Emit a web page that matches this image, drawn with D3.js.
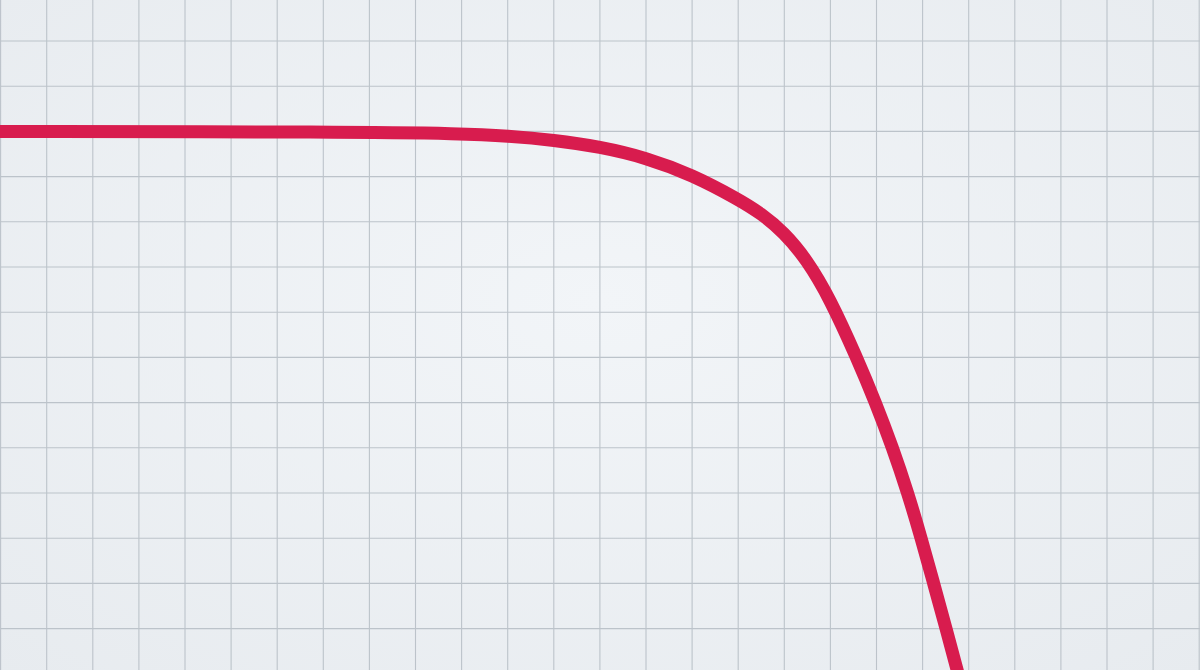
<!DOCTYPE html>
<html>
<head>
<meta charset="utf-8">
<script src="https://cdn.jsdelivr.net/npm/d3@7"></script>
<style>
  html, body { margin: 0; padding: 0; background: #eceff2; }
  svg { display: block; }
</style>
</head>
<body>
<div id="chart"></div>
<script>
// grid positions, in grid units
const gridCols = d3.range(-1, 27);
const gridRows = d3.range(0, 15);

// curve (x in columns, y in rows counted from the bottom)
const voltage = [-0.3, 0, 7.58, 10.0, 11.01, 12.0, 13.0, 14.0, 15.0, 16.0, 16.49, 16.99, 17.49, 17.99, 18.57, 18.98, 19.35, 19.68, 19.97, 20.24, 20.51, 20.77, 20.82];
const current = [12, 12, 11.99, 11.95, 11.9, 11.81, 11.66, 11.42, 11.04, 10.5, 10.19, 9.77, 9.16, 8.3, 7.0, 6.0, 5.0, 4.0, 3.0, 2.0, 1.0, 0, -0.18];

const width = 1200, height = 670;

const svg = d3.select("#chart").append("svg")
    .attr("width", width)
    .attr("height", height);

// soft background, a touch lighter in the middle
const defs = svg.append("defs");
const grad = defs.append("radialGradient")
    .attr("id", "bg")
    .attr("cx", "50%").attr("cy", "45%").attr("r", "75%");
grad.append("stop").attr("offset", "0%").attr("stop-color", "#f2f5f8");
grad.append("stop").attr("offset", "100%").attr("stop-color", "#e7ebef");

svg.append("rect")
    .attr("width", width)
    .attr("height", height)
    .attr("fill", "url(#bg)");

const x = d3.scaleLinear().domain([0, 26]).range([0.6, 1199.2]);
const y = d3.scaleLinear().domain([0, 14]).range([673.8, 41]);

// grid
svg.append("g")
    .selectAll("line")
    .data(gridCols)
    .enter()
    .append("line")
    .attr("x1", d => x(d))
    .attr("x2", d => x(d))
    .attr("y1", 0)
    .attr("y2", height)
    .attr("stroke", "#bcc3ca")
    .attr("stroke-width", 1.1);

svg.append("g")
    .selectAll("line")
    .data(gridRows)
    .enter()
    .append("line")
    .attr("x1", 0)
    .attr("x2", width)
    .attr("y1", d => y(d))
    .attr("y2", d => y(d))
    .attr("stroke", "#bcc3ca")
    .attr("stroke-width", 1.1);

// curve
const points = voltage.map((v, i) => [v, current[i]]);

const line = d3.line()
    .x(d => x(d[0]))
    .y(d => y(d[1]))
    .curve(d3.curveBasis);

svg.append("path")
    .datum(points)
    .attr("d", line)
    .attr("fill", "none")
    .attr("stroke", "#d81c4e")
    .attr("stroke-width", 13)
    .attr("stroke-linejoin", "round");
</script>
</body>
</html>
